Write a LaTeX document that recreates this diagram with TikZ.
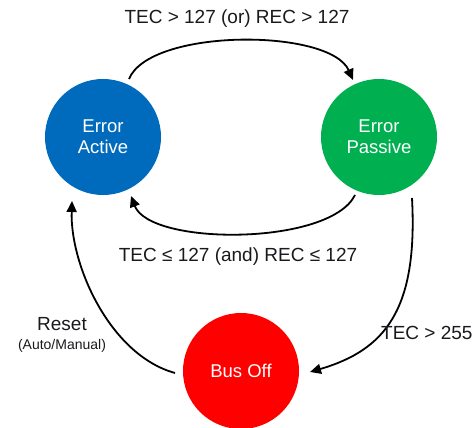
\documentclass[tikz,border=0pt]{standalone}
\usepackage{fontspec}
\setmainfont{Liberation Sans}
\usetikzlibrary{arrows.meta}
\definecolor{actblue}{RGB}{0,107,189}
\definecolor{pasgreen}{RGB}{0,176,80}
\definecolor{offred}{RGB}{255,0,0}
\definecolor{txt}{RGB}{25,25,30}
\begin{document}
\begin{tikzpicture}[x=1pt,y=-1pt,
  state/.style={circle,minimum size=116pt,inner sep=0pt,text=white,
    font=\fontsize{18.5}{21}\selectfont,align=center},
  lbl/.style={text=txt,font=\fontsize{19}{21}\selectfont,inner sep=0pt},
  conn/.style={line width=1.8pt,-{Triangle[length=11pt,width=10pt]}}]
\useasboundingbox (0,0) rectangle (472,428);
\node[state,fill=actblue] (act) at (103,137) {Error\\Active};
\node[state,fill=pasgreen] (pas) at (379,137) {Error\\Passive};
\node[state,fill=offred] (off) at (241,371) {Bus Off};
% connector end points
\coordinate (a1) at ([shift={(26,-58)}]act.center);
\coordinate (p1) at ([shift={(-26,-57)}]pas.center);
\coordinate (p2) at ([shift={(-24,58)}]pas.center);
\coordinate (a2) at ([shift={(28,59)}]act.center);
\coordinate (p3) at ([shift={(33,61)}]pas.center);
\coordinate (o1) at ([shift={(69,1)}]off.center);
\coordinate (o2) at ([shift={(-66,2)}]off.center);
\coordinate (a3) at ([shift={(-31,64)}]act.center);
\draw[conn] (a1) .. controls (150,28) and (330,28) .. (p1);
\draw[conn] (p2) .. controls (330,246) and (150,246) .. (a2);
\draw[conn] (p3) .. controls (418,310) and (385,350) .. (o1);
\draw[conn] (o2) .. controls (110,355) and (70,265) .. (a3);
\node[lbl] (t1) at (237,19) {TEC > 127 (or) REC > 127};
\node[lbl] (t2) at (238,257) {TEC ≤ 127 (and) REC ≤ 127};
\node[lbl,anchor=west] (t3) at (381,333) {TEC > 255};
\node[lbl] (t4) at (62,324) {Reset};
\node[lbl,font=\fontsize{14}{16}\selectfont] (t5) at (62,346) {(Auto/Manual)};
\end{tikzpicture}
\end{document}
